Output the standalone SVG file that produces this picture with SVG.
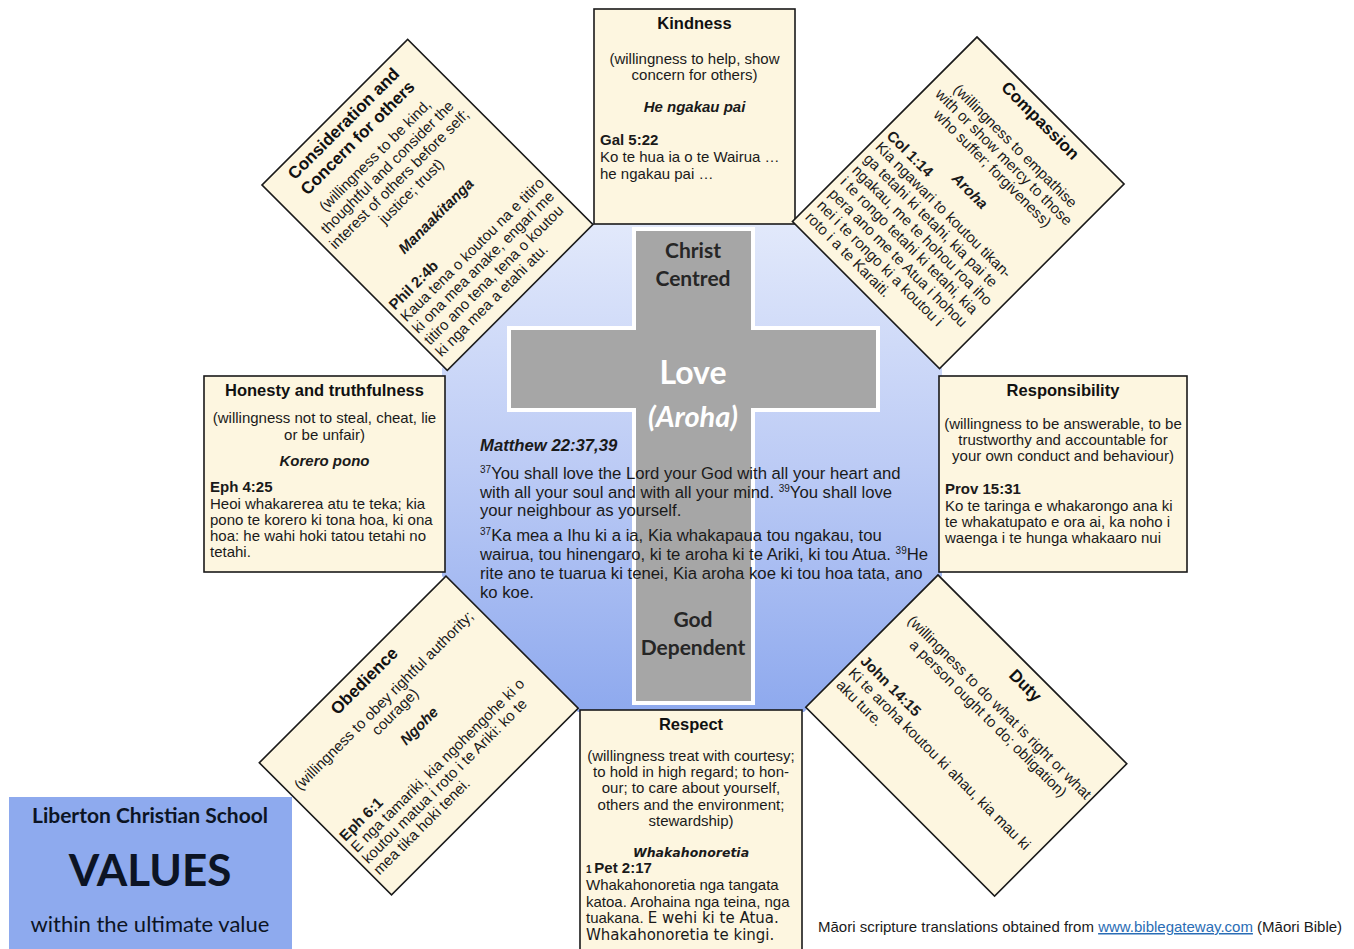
<svg xmlns="http://www.w3.org/2000/svg" width="1354" height="949" viewBox="0 0 1354 949">
<defs>
<linearGradient id="oct" x1="0" y1="222" x2="0" y2="712" gradientUnits="userSpaceOnUse">
<stop offset="0" stop-color="#e2e9fb"/>
<stop offset="0.5" stop-color="#bccbf5"/>
<stop offset="1" stop-color="#8ea9ee"/>
</linearGradient>
<style>
.box{fill:#fdf6e0;stroke:#1a1a1a;stroke-width:1.6}
.t{font-family:"Liberation Sans",Arial,sans-serif;font-size:15px;fill:#1a1a1a}
.h{font-weight:bold;font-size:16.5px;fill:#111}
.rh{font-size:17px}
.b{font-weight:bold}
.bi{font-weight:bold;font-style:italic}
.c{text-anchor:middle}
.cal{font-family:Lato,"Open Sans",sans-serif;font-weight:bold;text-anchor:middle}
.reg{font-weight:normal}
.dv{font-family:"DejaVu Sans",Verdana,sans-serif}
.m{font-size:16.7px}
.sup{font-size:10px}
</style>
</defs>
<rect width="1354" height="949" fill="#ffffff"/>

<g id="connectors"></g>

<g id="centre">
<polygon points="590,222 798,222 942,368 942,576 804,712 578,712 442,576 442,368" fill="url(#oct)"/>
<path d="M634,229 H753 V328 H878 V410 H753 V703 H634 V410 H509 V328 H634 Z" fill="#a6a6a6" stroke="#ffffff" stroke-width="4"/>
<text class="cal" x="693" y="258" font-size="21" fill="#262626">Christ</text>
<text class="cal" x="693" y="286" font-size="21" fill="#262626">Centred</text>
<text class="cal" x="693" y="384" font-size="32" fill="#ffffff">Love</text>
<text class="cal" x="693" y="427" font-size="29" fill="#ffffff" font-style="italic">(Aroha)</text>
<text class="cal" x="693" y="627" font-size="21" fill="#262626">God</text>
<text class="cal" x="693" y="655" font-size="21" fill="#262626">Dependent</text>
<text class="t bi m" x="480" y="451">Matthew 22:37,39</text>
<text class="t m" x="480" y="479"><tspan class="sup" dy="-6">37</tspan><tspan dy="6">You shall love the Lord your God with all your heart and</tspan></text>
<text class="t m" x="480" y="497.5">with all your soul and with all your mind. <tspan class="sup" dy="-6">39</tspan><tspan dy="6">You shall love</tspan></text>
<text class="t m" x="480" y="516">your neighbour as yourself.</text>
<text class="t m" x="480" y="541"><tspan class="sup" dy="-6">37</tspan><tspan dy="6">Ka mea a Ihu ki a ia, Kia whakapaua tou ngakau, tou</tspan></text>
<text class="t m" x="480" y="560">wairua, tou hinengaro, ki te aroha ki te Ariki, ki tou Atua. <tspan class="sup" dy="-6">39</tspan><tspan dy="6">He</tspan></text>
<text class="t m" x="480" y="579">rite ano te tuarua ki tenei, Kia aroha koe ki tou hoa tata, ano</text>
<text class="t m" x="480" y="598">ko koe.</text>
</g>

<g id="kindness">
<rect class="box" x="594" y="9" width="201" height="215"/>
<text class="t h c" x="694.5" y="29">Kindness</text>
<text class="t c" x="694.5" y="64">(willingness to help, show</text>
<text class="t c" x="694.5" y="80">concern for others)</text>
<text class="t bi c" x="694.5" y="112">He ngakau pai</text>
<text class="t b" x="600" y="145">Gal 5:22</text>
<text class="t" x="600" y="162">Ko te hua ia o te Wairua …</text>
<text class="t" x="600" y="179">he ngakau pai …</text>
</g>

<g id="consideration" transform="translate(262,185) rotate(-45)">
<rect class="box" x="0" y="0" width="206" height="262"/>
<text class="t h rh c" x="101" y="20">Consideration and</text>
<text class="t h rh c" x="101" y="40">Concern for others</text>
<text class="t c" x="101" y="64">(willingness to be kind,</text>
<text class="t c" x="101" y="81">thoughtful and consider the</text>
<text class="t c" x="101" y="98">interest of others before self;</text>
<text class="t c" x="101" y="115">justice; trust)</text>
<text class="t bi c" x="101" y="150">Manaakitanga</text>
<text class="t b" x="5" y="183">Phil 2:4b</text>
<text class="t" x="5" y="199.5">Kaua tena o koutou na e titiro</text>
<text class="t" x="5" y="216">ki ona mea anake, engari me</text>
<text class="t" x="5" y="232.5">titiro ano tena, tena o koutou</text>
<text class="t" x="5" y="249">ki nga mea a etahi atu.</text>
</g>

<g id="compassion" transform="translate(977,37) rotate(45)">
<rect class="box" x="0" y="0" width="208" height="261"/>
<text class="t h rh c" x="104" y="20">Compassion</text>
<text class="t c" x="104" y="55">(willingness to empathise</text>
<text class="t c" x="104" y="71">with or show mercy to those</text>
<text class="t c" x="104" y="87">who suffer; forgiveness)</text>
<text class="t bi c" x="104" y="119">Aroha</text>
<text class="t b" x="6" y="135">Col 1:14</text>
<text class="t" x="6" y="151">Kia ngawari to koutou tikan-</text>
<text class="t" x="6" y="167.5">ga tetahi ki tetahi, kia pai te</text>
<text class="t" x="6" y="184">ngakau, me te hohou roa iho</text>
<text class="t" x="6" y="200.5">i te rongo tetahi ki tetahi, kia</text>
<text class="t" x="6" y="217">pera ano me te Atua i hohou</text>
<text class="t" x="6" y="233.5">nei i te rongo ki a koutou i</text>
<text class="t" x="6" y="250">roto i a te Karaiti.</text>
</g>

<g id="honesty">
<rect class="box" x="204" y="376" width="241" height="196"/>
<text class="t h c" x="324.5" y="396">Honesty and truthfulness</text>
<text class="t c" x="324.5" y="423">(willingness not to steal, cheat, lie</text>
<text class="t c" x="324.5" y="440">or be unfair)</text>
<text class="t bi c" x="324.5" y="466">Korero pono</text>
<text class="t b" x="210" y="492">Eph 4:25</text>
<text class="t" x="210" y="509">Heoi whakarerea atu te teka; kia</text>
<text class="t" x="210" y="525">pono te korero ki tona hoa, ki ona</text>
<text class="t" x="210" y="541">hoa: he wahi hoki tatou tetahi no</text>
<text class="t" x="210" y="557">tetahi.</text>
</g>

<g id="responsibility">
<rect class="box" x="939" y="376" width="248" height="196"/>
<text class="t h c" x="1063" y="396">Responsibility</text>
<text class="t c" x="1063" y="429">(willingness to be answerable, to be</text>
<text class="t c" x="1063" y="445">trustworthy and accountable for</text>
<text class="t c" x="1063" y="461">your own conduct and behaviour)</text>
<text class="t b" x="945" y="494">Prov 15:31</text>
<text class="t" x="945" y="511">Ko te taringa e whakarongo ana ki</text>
<text class="t" x="945" y="527">te whakatupato e ora ai, ka noho i</text>
<text class="t" x="945" y="543">waenga i te hunga whakaaro nui</text>
</g>

<g id="obedience" transform="translate(259.3,762.7) rotate(-45)">
<rect class="box" x="0" y="0" width="264" height="187"/>
<text class="t h rh c" x="132" y="22">Obedience</text>
<text class="t c" x="132" y="49">(willingness to obey rightful authority;</text>
<text class="t c" x="132" y="65">courage)</text>
<text class="t bi c" x="139" y="92">Ngohe</text>
<text class="t b" x="5" y="117">Eph 6:1</text>
<text class="t" x="5" y="133">E nga tamariki, kia ngohengohe ki o</text>
<text class="t" x="5" y="149">koutou matua i roto i te Ariki: ko te</text>
<text class="t" x="5" y="165">mea tika hoki tenei.</text>
</g>

<g id="respect">
<rect class="box" x="580" y="710" width="222" height="245"/>
<text class="t h c" x="691" y="730">Respect</text>
<text class="t c" x="691" y="761">(willingness treat with courtesy;</text>
<text class="t c" x="691" y="777">to hold in high regard; to hon-</text>
<text class="t c" x="691" y="793">our; to care about yourself,</text>
<text class="t c" x="691" y="810">others and the environment;</text>
<text class="t c" x="691" y="826">stewardship)</text>
<text class="t dv c" x="691" y="857" style="font-size:12.5px;font-weight:bold;font-style:italic">Whakahonoretia</text>
<text class="t b" x="586" y="873"><tspan class="sup">1 </tspan>Pet 2:17</text>
<text class="t" x="586" y="890">Whakahonoretia nga tangata</text>
<text class="t" x="586" y="907">katoa. Arohaina nga teina, nga</text>
<text class="t" x="586" y="923">tuakana. <tspan class="dv">E wehi ki te Atua.</tspan></text>
<text class="t dv" x="586" y="940">Whakahonoretia te kingi.</text>
</g>

<g id="duty" transform="translate(938,575) rotate(45)">
<rect class="box" x="0" y="0" width="267" height="187"/>
<text class="t h rh c" x="140" y="22">Duty</text>
<text class="t c" x="137" y="55">(willingness to do what is right or what</text>
<text class="t c" x="137" y="71">a person ought to do; obligation)</text>
<text class="t b" x="6" y="117">John 14:15</text>
<text class="t" x="6" y="134">Ki te aroha koutou ki ahau, kia mau ki</text>
<text class="t" x="6" y="151">aku ture.</text>
</g>

<g id="title">
<rect x="9" y="797" width="283" height="152" fill="#8eaaee"/>
<text class="cal" x="150" y="823" font-size="21" fill="#0c1424">Liberton Christian School</text>
<text class="cal" x="150" y="886" font-size="44" fill="#0c1424">VALUES</text>
<text class="cal reg" x="150" y="932" font-size="22" fill="#0c1424">within the ultimate value</text>
</g>

<g id="credit">
<text class="t" x="818" y="932">Māori scripture translations obtained from <tspan fill="#2a6db5" text-decoration="underline">www.biblegateway.com</tspan> (Māori Bible)</text>
</g>
</svg>
